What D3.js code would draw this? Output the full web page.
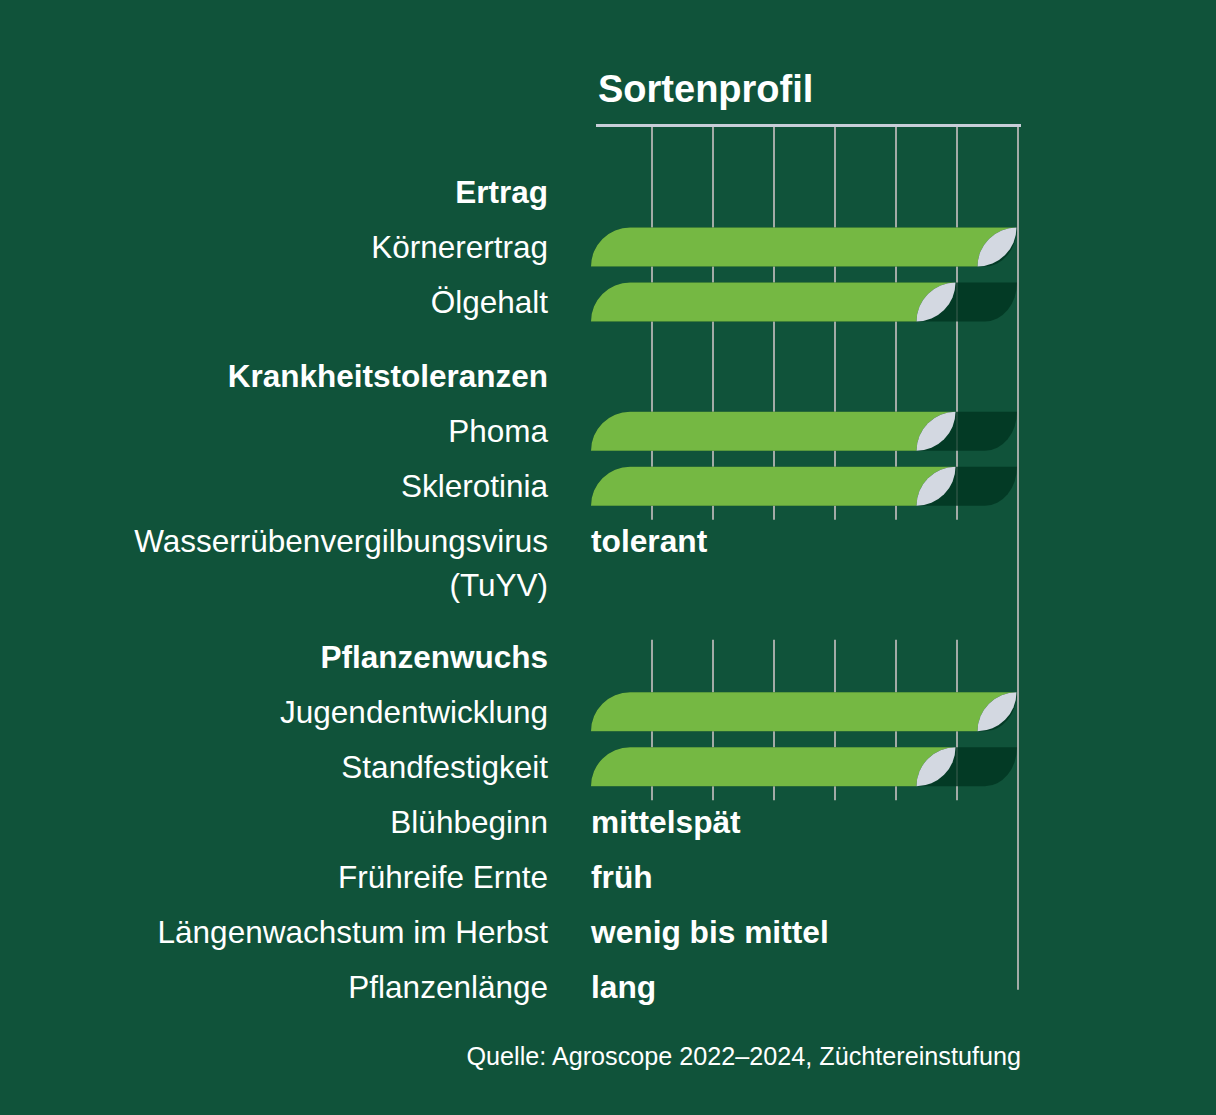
<!DOCTYPE html>
<html>
<head>
<meta charset="utf-8">
<script src="https://cdn.jsdelivr.net/npm/d3@7"></script>
<style>
  html, body { margin: 0; padding: 0; background: #10533a; }
  svg { display: block; }
  text { font-family: "Liberation Sans", Arial, sans-serif; fill: #fff; }
</style>
</head>
<body>
<svg id="chart"></svg>
<script>
const width = 1216;
const height = 1115;

// data
const groups = ['Ertrag', 'Krankheitstoleranzen', 'Pflanzenwuchs'];
const traits = ['Körnerertrag', 'Ölgehalt', 'Phoma', 'Sklerotinia', 'Wasserrübenvergilbungsvirus\n(TuYV)',
                'Jugendentwicklung', 'Standfestigkeit', 'Blühbeginn', 'Frühreife Ernte',
                'Längenwachstum im Herbst', 'Pflanzenlänge'];
const traitGroup = [0, 0, 1, 1, 1, 2, 2, 2, 2, 2, 2];
const scores = [7, 6, 6, 6, null, 7, 6, null, null, null, null];
const ratings = [null, null, null, null, 'tolerant', null, null, 'mittelspät', 'früh', 'wenig bis mittel', 'lang'];
const scaleMax = 7;
const tickValues = [1, 2, 3, 4, 5, 6, 7];
const title = 'Sortenprofil';
const source = 'Quelle: Agroscope 2022–2024, Züchtereinstufung';

const svg = d3.select('#chart').attr('width', width).attr('height', height);
svg.append('rect').attr('width', width).attr('height', height).attr('fill', '#10533a');

const x = d3.scaleLinear().domain([0, scaleMax]).range([591, 1018]);
const barH = 39;
const labelX = 548;

// rows: group headings followed by their traits, placed on slots
let rows = [];
let slot = 0;
let prevLines = 1;
groups.forEach((g, gi) => {
    if (gi > 0) slot += 1.35 + (prevLines - 1) * 0.75;
    rows.push({type: 'head', label: g, slot: slot, group: gi});
    prevLines = 1;
    traits.forEach((t, i) => {
        if (traitGroup[i] !== gi) return;
        slot += 1;
        rows.push({type: 'trait', label: t, score: scores[i], rating: ratings[i], slot: slot, group: gi});
        prevLines = t.split('\n').length;
    });
});
const y = d3.scaleLinear().domain([0, 1]).range([192, 247]);

// title + header rule
svg.append('text').attr('x', 598).attr('y', 102)
    .style('font-size', '38px').style('font-weight', 'bold').text(title);
svg.append('line').attr('x1', 596).attr('x2', 1021).attr('y1', 125.5).attr('y2', 125.5)
    .attr('stroke', '#c8ced8').attr('stroke-width', 3);

// grid sections: a run of bar rows, broken where a text row comes between
let sections = [];
let cur = null;
rows.forEach((r, i) => {
    if (r.type === 'head') {
        if (!cur) cur = {head: r, bars: []};
        return;
    }
    if (r.score != null) {
        cur.bars.push(r);
    } else {
        if (cur && cur.bars.length) sections.push(cur);
        cur = null;
    }
});
if (cur && cur.bars.length) sections.push(cur);

const grid = svg.append('g');
sections.forEach((s, si) => {
    const top = si === 0 ? 127 : y(s.head.slot) - 17;
    const bottom = y(s.bars[s.bars.length - 1].slot) + barH / 2 + 14;
    grid.selectAll(null).data(tickValues.slice(0, -1)).enter().append('line')
        .attr('x1', d => x(d)).attr('x2', d => x(d))
        .attr('y1', top).attr('y2', bottom)
        .attr('stroke', '#a3aaa6').attr('stroke-width', 2);
});
const lastRow = rows[rows.length - 1];
grid.append('line')
    .attr('x1', x(scaleMax)).attr('x2', x(scaleMax))
    .attr('y1', 127).attr('y2', y(lastRow.slot) + 3)
    .attr('stroke', '#a3aaa6').attr('stroke-width', 2);

// bar shapes
function trackPath(x0, x1, t, h) {
    const rx = 32;
    return `M${x0},${t + h} A${h},${h} 0 0 1 ${x0 + h},${t} L${x1},${t} A${rx},${h} 0 0 1 ${x1 - rx},${t + h} Z`;
}
function barPath(x0, x1, t, h) {
    return `M${x0},${t + h} A${h},${h} 0 0 1 ${x0 + h},${t} L${x1},${t} A${h},${h} 0 0 0 ${x1 - h},${t + h} Z`;
}
function leafPath(x1, t, h) {
    return `M${x1 - h},${t + h} A${h},${h} 0 0 1 ${x1},${t} A${h},${h} 0 0 1 ${x1 - h},${t + h} Z`;
}

const barRows = rows.filter(r => r.type === 'trait' && r.score != null);
const bars = svg.append('g');
bars.selectAll('.track').data(barRows).enter().append('path')
    .attr('d', d => trackPath(x(0), x(scaleMax) - 1, y(d.slot) - barH / 2, barH))
    .attr('fill', '#003520').attr('fill-opacity', 0.8);
bars.selectAll('.bar').data(barRows).enter().append('path')
    .attr('d', d => barPath(x(0), x(d.score) - 1.5, y(d.slot) - barH / 2, barH))
    .attr('fill', '#75b843');
bars.selectAll('.leaf').data(barRows).enter().append('path')
    .attr('d', d => leafPath(x(d.score) - 1.5, y(d.slot) - barH / 2, barH))
    .attr('fill', '#d3d8e1');

// labels
const labels = svg.append('g');
rows.forEach(r => {
    const lines = r.label.split('\n');
    const t = labels.append('text')
        .attr('x', labelX).attr('y', y(r.slot) + 11)
        .attr('text-anchor', 'end')
        .style('font-size', '31.5px')
        .style('font-weight', r.type === 'head' ? 'bold' : 'normal');
    lines.forEach((l, i) => {
        t.append('tspan').attr('x', labelX).attr('dy', i === 0 ? 0 : 44).text(l);
    });
    if (r.type === 'trait' && r.rating) {
        labels.append('text')
            .attr('x', x(0)).attr('y', y(r.slot) + 11)
            .style('font-size', '31.7px').style('font-weight', 'bold')
            .text(r.rating);
    }
});

// source
svg.append('text').attr('x', 1021).attr('y', 1065)
    .attr('text-anchor', 'end').style('font-size', '25.2px')
    .text(source);
</script>
</body>
</html>
